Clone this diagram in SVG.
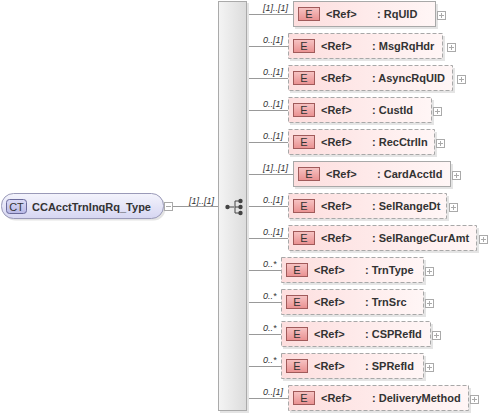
<svg xmlns="http://www.w3.org/2000/svg" width="488" height="417" viewBox="0 0 488 417">
<defs>
<linearGradient id="gEl" x1="0" y1="0" x2="1" y2="0"><stop offset="0" stop-color="#fddede"/><stop offset="1" stop-color="#fff6f6"/></linearGradient>
<linearGradient id="gBadge" x1="0" y1="0" x2="0" y2="1"><stop offset="0" stop-color="#f7c4c4"/><stop offset="1" stop-color="#e99090"/></linearGradient>
<linearGradient id="gCT" x1="0" y1="0" x2="0" y2="1"><stop offset="0" stop-color="#f4f4fc"/><stop offset="1" stop-color="#d6d6f2"/></linearGradient>
<linearGradient id="gCTb" x1="0" y1="0" x2="0" y2="1"><stop offset="0" stop-color="#dcdcf6"/><stop offset="1" stop-color="#b8b8e6"/></linearGradient>
<linearGradient id="gBar" x1="0" y1="0" x2="1" y2="0"><stop offset="0" stop-color="#f4f4f4"/><stop offset="1" stop-color="#dcdcdc"/></linearGradient>
</defs>
<style>
.box{fill:url(#gEl);stroke:#a8a8a8;stroke-width:1}
.opt{stroke-dasharray:4,2}
.sh{fill:#e4e4e4}
.badge{fill:url(#gBadge);stroke:#a05a5a;stroke-width:1}
.t{font-family:"Liberation Sans",Arial,sans-serif;font-size:11px;font-weight:bold;fill:#333}
.m{font-family:"Liberation Sans",Arial,sans-serif;font-size:9px;font-style:italic;fill:#333}
.ln{stroke:#999;stroke-width:1;fill:none}
.ex{fill:#fff;stroke:#aaa;stroke-width:1}
.exl{stroke:#aaa;stroke-width:1}
</style>
<g id="connectors">
<line class="ln" x1="173" y1="206.5" x2="218" y2="206.5"/>
<text class="m" x="189" y="204">[1]..[1]</text>
<line class="ln" x1="247" y1="14.5" x2="293" y2="14.5"/>
<line class="ln" x1="247" y1="46.5" x2="288" y2="46.5"/>
<line class="ln" x1="247" y1="78.5" x2="288" y2="78.5"/>
<line class="ln" x1="247" y1="110.5" x2="288" y2="110.5"/>
<line class="ln" x1="247" y1="142.5" x2="288" y2="142.5"/>
<line class="ln" x1="247" y1="174.5" x2="293" y2="174.5"/>
<line class="ln" x1="247" y1="206.5" x2="288" y2="206.5"/>
<line class="ln" x1="247" y1="238.5" x2="288" y2="238.5"/>
<line class="ln" x1="247" y1="270.5" x2="281" y2="270.5"/>
<line class="ln" x1="247" y1="302.5" x2="281" y2="302.5"/>
<line class="ln" x1="247" y1="334.5" x2="281" y2="334.5"/>
<line class="ln" x1="247" y1="366.5" x2="281" y2="366.5"/>
<line class="ln" x1="247" y1="398.5" x2="288" y2="398.5"/>
<text class="m" x="263" y="11">[1]..[1]</text>
<text class="m" x="263" y="43">0..[1]</text>
<text class="m" x="263" y="75">0..[1]</text>
<text class="m" x="263" y="107">0..[1]</text>
<text class="m" x="263" y="139">0..[1]</text>
<text class="m" x="263" y="171">[1]..[1]</text>
<text class="m" x="263" y="203">0..[1]</text>
<text class="m" x="263" y="235">0..[1]</text>
<text class="m" x="263" y="267">0..*</text>
<text class="m" x="263" y="299">0..*</text>
<text class="m" x="263" y="331">0..*</text>
<text class="m" x="263" y="363">0..*</text>
<text class="m" x="263" y="395">0..[1]</text>
</g>
<g id="ct">
<rect x="3.5" y="195.5" width="162" height="25" rx="12" class="sh"/>
<rect x="1.5" y="193.5" width="162" height="25" rx="12" fill="url(#gCT)" stroke="#9a9ab8"/>
<rect x="6.5" y="199.5" width="20" height="14" rx="3" fill="url(#gCTb)" stroke="#6a6a9a"/>
<text class="t" x="16.5" y="210.5" text-anchor="middle" style="font-weight:normal;fill:#333">CT</text>
<text class="t" x="32" y="210.5">CCAcctTrnInqRq_Type</text>
<rect class="ex" x="164.5" y="202.5" width="8" height="8"/>
<line class="exl" x1="166" y1="206.5" x2="171" y2="206.5"/>
</g>
<g id="seq">
<rect x="220" y="3" width="29" height="410" class="sh"/>
<rect x="218.5" y="1.5" width="28" height="409" fill="url(#gBar)" stroke="#aaa"/>
<line x1="227" y1="207" x2="234" y2="207" stroke="#444" stroke-width="1"/>
<polyline points="240,201 235,201 235,213 240,213" fill="none" stroke="#444" stroke-width="1"/>
<line x1="235" y1="207" x2="240" y2="207" stroke="#444" stroke-width="1"/>
<circle cx="227.5" cy="207" r="2.2" fill="#444"/>
<circle cx="240.5" cy="201" r="2.2" fill="#444"/>
<circle cx="240.5" cy="207" r="2.2" fill="#444"/>
<circle cx="240.5" cy="213" r="2.2" fill="#444"/>
</g>
<g id="n1"><rect class="sh" x="295" y="4" width="143" height="25"/><rect class="box" x="293.5" y="1.5" width="142" height="25"/><rect class="badge" x="298.5" y="7.5" width="21" height="13"/><text class="t" x="309" y="18" text-anchor="middle" style="font-weight:normal">E</text><text class="t" x="326" y="18">&lt;Ref&gt;</text><text class="t" x="377" y="18">: RqUID</text><rect class="ex" x="437.5" y="11.5" width="8" height="8"/><line class="exl" x1="439" y1="15.5" x2="444" y2="15.5"/><line class="exl" x1="441.5" y1="13" x2="441.5" y2="18"/></g>
<g id="n2"><rect class="sh" x="290" y="36" width="155" height="25"/><rect class="box opt" x="288.5" y="33.5" width="154" height="25"/><rect class="badge" x="293.5" y="39.5" width="21" height="13"/><text class="t" x="304" y="50" text-anchor="middle" style="font-weight:normal">E</text><text class="t" x="321" y="50">&lt;Ref&gt;</text><text class="t" x="372" y="50">: MsgRqHdr</text><rect class="ex" x="447.5" y="43.5" width="8" height="8"/><line class="exl" x1="449" y1="47.5" x2="454" y2="47.5"/><line class="exl" x1="451.5" y1="45" x2="451.5" y2="50"/></g>
<g id="n3"><rect class="sh" x="290" y="68" width="165" height="25"/><rect class="box opt" x="288.5" y="65.5" width="164" height="25"/><rect class="badge" x="293.5" y="71.5" width="21" height="13"/><text class="t" x="304" y="82" text-anchor="middle" style="font-weight:normal">E</text><text class="t" x="321" y="82">&lt;Ref&gt;</text><text class="t" x="372" y="82">: AsyncRqUID</text><rect class="ex" x="457.5" y="75.5" width="8" height="8"/><line class="exl" x1="459" y1="79.5" x2="464" y2="79.5"/><line class="exl" x1="461.5" y1="77" x2="461.5" y2="82"/></g>
<g id="n4"><rect class="sh" x="290" y="100" width="144" height="25"/><rect class="box opt" x="288.5" y="97.5" width="143" height="25"/><rect class="badge" x="293.5" y="103.5" width="21" height="13"/><text class="t" x="304" y="114" text-anchor="middle" style="font-weight:normal">E</text><text class="t" x="321" y="114">&lt;Ref&gt;</text><text class="t" x="372" y="114">: CustId</text><rect class="ex" x="433.5" y="107.5" width="8" height="8"/><line class="exl" x1="435" y1="111.5" x2="440" y2="111.5"/><line class="exl" x1="437.5" y1="109" x2="437.5" y2="114"/></g>
<g id="n5"><rect class="sh" x="290" y="132" width="147" height="25"/><rect class="box opt" x="288.5" y="129.5" width="146" height="25"/><rect class="badge" x="293.5" y="135.5" width="21" height="13"/><text class="t" x="304" y="146" text-anchor="middle" style="font-weight:normal">E</text><text class="t" x="321" y="146">&lt;Ref&gt;</text><text class="t" x="372" y="146">: RecCtrlIn</text><rect class="ex" x="436.5" y="139.5" width="8" height="8"/><line class="exl" x1="438" y1="143.5" x2="443" y2="143.5"/><line class="exl" x1="440.5" y1="141" x2="440.5" y2="146"/></g>
<g id="n6"><rect class="sh" x="295" y="164" width="158" height="25"/><rect class="box" x="293.5" y="161.5" width="157" height="25"/><rect class="badge" x="298.5" y="167.5" width="21" height="13"/><text class="t" x="309" y="178" text-anchor="middle" style="font-weight:normal">E</text><text class="t" x="326" y="178">&lt;Ref&gt;</text><text class="t" x="377" y="178">: CardAcctId</text><rect class="ex" x="452.5" y="171.5" width="8" height="8"/><line class="exl" x1="454" y1="175.5" x2="459" y2="175.5"/><line class="exl" x1="456.5" y1="173" x2="456.5" y2="178"/></g>
<g id="n7"><rect class="sh" x="290" y="196" width="159" height="25"/><rect class="box opt" x="288.5" y="193.5" width="158" height="25"/><rect class="badge" x="293.5" y="199.5" width="21" height="13"/><text class="t" x="304" y="210" text-anchor="middle" style="font-weight:normal">E</text><text class="t" x="321" y="210">&lt;Ref&gt;</text><text class="t" x="372" y="210">: SelRangeDt</text><rect class="ex" x="449.5" y="203.5" width="8" height="8"/><line class="exl" x1="451" y1="207.5" x2="456" y2="207.5"/><line class="exl" x1="453.5" y1="205" x2="453.5" y2="210"/></g>
<g id="n8"><rect class="sh" x="290" y="228" width="189" height="25"/><rect class="box opt" x="288.5" y="225.5" width="188" height="25"/><rect class="badge" x="293.5" y="231.5" width="21" height="13"/><text class="t" x="304" y="242" text-anchor="middle" style="font-weight:normal">E</text><text class="t" x="321" y="242">&lt;Ref&gt;</text><text class="t" x="372" y="242">: SelRangeCurAmt</text><rect class="ex" x="479.5" y="235.5" width="8" height="8"/><line class="exl" x1="481" y1="239.5" x2="486" y2="239.5"/><line class="exl" x1="483.5" y1="237" x2="483.5" y2="242"/></g>
<g id="n9"><rect class="sh" x="283" y="260" width="143" height="25"/><rect class="box opt" x="281.5" y="257.5" width="142" height="25"/><rect class="badge" x="286.5" y="263.5" width="21" height="13"/><text class="t" x="297" y="274" text-anchor="middle" style="font-weight:normal">E</text><text class="t" x="314" y="274">&lt;Ref&gt;</text><text class="t" x="365" y="274">: TrnType</text><rect class="ex" x="425.5" y="267.5" width="8" height="8"/><line class="exl" x1="427" y1="271.5" x2="432" y2="271.5"/><line class="exl" x1="429.5" y1="269" x2="429.5" y2="274"/></g>
<g id="n10"><rect class="sh" x="283" y="292" width="143" height="25"/><rect class="box opt" x="281.5" y="289.5" width="142" height="25"/><rect class="badge" x="286.5" y="295.5" width="21" height="13"/><text class="t" x="297" y="306" text-anchor="middle" style="font-weight:normal">E</text><text class="t" x="314" y="306">&lt;Ref&gt;</text><text class="t" x="365" y="306">: TrnSrc</text><rect class="ex" x="425.5" y="299.5" width="8" height="8"/><line class="exl" x1="427" y1="303.5" x2="432" y2="303.5"/><line class="exl" x1="429.5" y1="301" x2="429.5" y2="306"/></g>
<g id="n11"><rect class="sh" x="283" y="324" width="150" height="25"/><rect class="box opt" x="281.5" y="321.5" width="149" height="25"/><rect class="badge" x="286.5" y="327.5" width="21" height="13"/><text class="t" x="297" y="338" text-anchor="middle" style="font-weight:normal">E</text><text class="t" x="314" y="338">&lt;Ref&gt;</text><text class="t" x="365" y="338">: CSPRefId</text><rect class="ex" x="432.5" y="331.5" width="8" height="8"/><line class="exl" x1="434" y1="335.5" x2="439" y2="335.5"/><line class="exl" x1="436.5" y1="333" x2="436.5" y2="338"/></g>
<g id="n12"><rect class="sh" x="283" y="356" width="143" height="25"/><rect class="box opt" x="281.5" y="353.5" width="142" height="25"/><rect class="badge" x="286.5" y="359.5" width="21" height="13"/><text class="t" x="297" y="370" text-anchor="middle" style="font-weight:normal">E</text><text class="t" x="314" y="370">&lt;Ref&gt;</text><text class="t" x="365" y="370">: SPRefId</text><rect class="ex" x="425.5" y="363.5" width="8" height="8"/><line class="exl" x1="427" y1="367.5" x2="432" y2="367.5"/><line class="exl" x1="429.5" y1="365" x2="429.5" y2="370"/></g>
<g id="n13"><rect class="sh" x="290" y="388" width="181" height="25"/><rect class="box opt" x="288.5" y="385.5" width="180" height="25"/><rect class="badge" x="293.5" y="391.5" width="21" height="13"/><text class="t" x="304" y="402" text-anchor="middle" style="font-weight:normal">E</text><text class="t" x="321" y="402">&lt;Ref&gt;</text><text class="t" x="372" y="402">: DeliveryMethod</text><rect class="ex" x="470.5" y="395.5" width="8" height="8"/><line class="exl" x1="472" y1="399.5" x2="477" y2="399.5"/><line class="exl" x1="474.5" y1="397" x2="474.5" y2="402"/></g>
</svg>
